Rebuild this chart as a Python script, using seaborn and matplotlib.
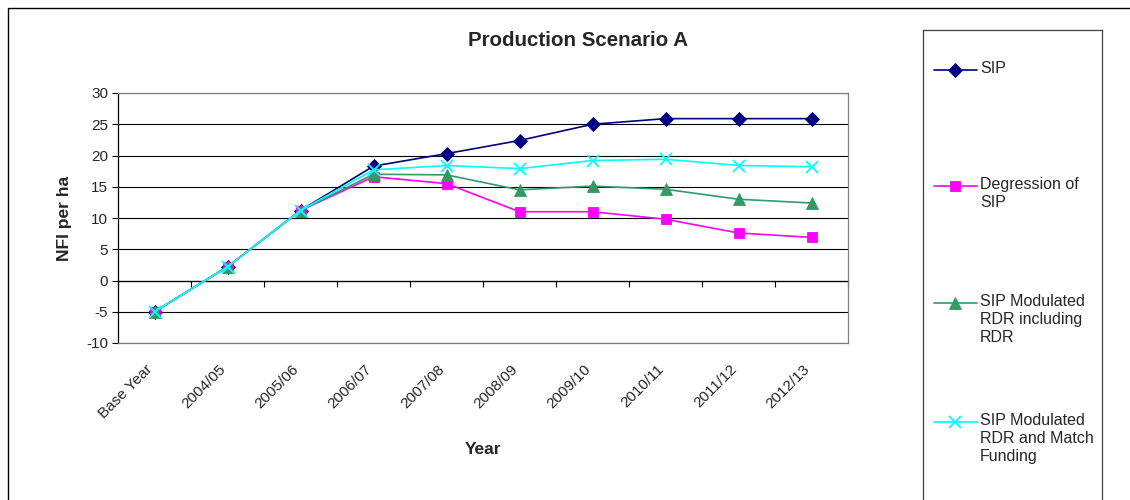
import numpy as np
import pandas as pd
import matplotlib
matplotlib.use("Agg")
import matplotlib.pyplot as plt
import matplotlib.transforms as mtransforms
from matplotlib.patches import Rectangle
from matplotlib.lines import Line2D
import seaborn as sns

# NFI per ha by year for each scenario
years = ["Base Year", "2004/05", "2005/06", "2006/07", "2007/08",
         "2008/09", "2009/10", "2010/11", "2011/12", "2012/13"]
sip = [-5.0, 2.2, 11.2, 18.3, 20.3, 22.4, 25.0, 25.9, 25.9, 25.9]
degression = [-5.0, 2.2, 11.2, 16.6, 15.5, 11.0, 11.0, 9.8, 7.6, 6.9]
modulated_rdr = [-5.0, 2.2, 11.2, 17.0, 16.9, 14.5, 15.1, 14.6, 13.0, 12.4]
match_funding = [-5.0, 2.2, 11.2, 17.7, 18.4, 17.9, 19.2, 19.4, 18.4, 18.2]

series_names = ["SIP", "Degression of SIP",
                "SIP Modulated RDR including RDR",
                "SIP Modulated RDR and Match Funding"]
legend_labels = ["SIP", "Degression of\nSIP",
                 "SIP Modulated\nRDR including\nRDR",
                 "SIP Modulated\nRDR and Match\nFunding"]
colors = ["#000080", "#FF00FF", "#339966", "#00FFFF"]
markers = ["D", "s", "^", "x"]
msizes = [7, 7.5, 8, 8]

sns.set_style("white")
plt.rcParams["font.family"] = ["Liberation Sans", "DejaVu Sans"]
plt.rcParams["axes.unicode_minus"] = False

df = pd.DataFrame({
    "pos": np.tile(np.arange(len(years)), 4),
    "value": sip + degression + modulated_rdr + match_funding,
    "series": np.repeat(series_names, len(years)),
})

fig = plt.figure(figsize=(11.3, 5.0), dpi=100)
ax = fig.add_axes([118 / 1130, 157 / 500, 730 / 1130, 250 / 500])

ymin, ymax = -10, 30
ax.set_ylim(ymin, ymax)
ax.set_xlim(-0.5, len(years) - 0.5)
ax.set_yticks(np.arange(ymin, ymax + 1, 5))
ax.yaxis.grid(True, color="black", lw=0.8)
ax.set_axisbelow(True)

for name, c, m, ms in zip(series_names, colors, markers, msizes):
    sub = df[df["series"] == name]
    sns.lineplot(data=sub, x="pos", y="value", ax=ax, color=c, lw=1.2,
                 marker=m, markersize=ms, markeredgecolor=c,
                 markeredgewidth=1.3 if m == "x" else 0.6, legend=False)

# Category labels along the bottom of the plot area
ax.set_xticks(np.arange(len(years)))
ax.set_xticklabels(years, rotation=45, ha="right", rotation_mode="anchor",
                   fontsize=11)
ax.tick_params(axis="x", length=0, pad=11)
shift = mtransforms.ScaledTranslation(-9 / 100, -4 / 100, fig.dpi_scale_trans)
for lbl in ax.get_xticklabels():
    lbl.set_transform(lbl.get_transform() + shift)
ax.tick_params(axis="y", direction="out", length=4, width=0.8, color="black",
               labelsize=11, pad=3, left=True)

for side in ["top", "right", "bottom"]:
    ax.spines[side].set_color("#808080")
    ax.spines[side].set_linewidth(0.9)
ax.spines["left"].set_color("black")
ax.spines["left"].set_linewidth(0.9)

# Category axis crossing at zero with ticks between categories
sec = ax.secondary_xaxis((0 - ymin) / (ymax - ymin))
sec.set_xticks(np.arange(-0.5, len(years), 1.0))
sec.set_xticklabels([])
sec.tick_params(axis="x", direction="out", length=4, width=0.8, color="black")
sec.spines["bottom"].set_color("black")
sec.spines["bottom"].set_linewidth(0.9)

ax.set_xlabel("Year", fontsize=12.5, fontweight="bold")
ax.xaxis.set_label_coords(0.5, -0.395)
ax.set_ylabel("NFI per ha", fontsize=12.5, fontweight="bold", labelpad=10)

fig.text(578 / 1130, 1 - 40 / 500, "Production Scenario A", fontsize=14.8,
         fontweight="bold", ha="center", va="center")

# Legend panel
lax = fig.add_axes([923 / 1130, 0, (1102 - 923) / 1130, 1 - 30 / 500])
lax.set_xlim(923, 1102)
lax.set_ylim(500, 30)
lax.set_xticks([])
lax.set_yticks([])
lax.set_facecolor("none")
for side in ["top", "left", "right"]:
    lax.spines[side].set_color("#404040")
    lax.spines[side].set_linewidth(0.9)
lax.spines["bottom"].set_visible(False)
entry_y = [70, 186, 303, 422]
for lbl, c, m, ms, yy in zip(legend_labels, colors, markers, msizes, entry_y):
    lax.add_line(Line2D([934, 977], [yy, yy], color=c, lw=1.2))
    lax.add_line(Line2D([955.5], [yy], color=c, marker=m, markersize=ms,
                        markeredgecolor=c,
                        markeredgewidth=1.3 if m == "x" else 0.6))
    lax.text(980, yy - 9, lbl, fontsize=11.5, ha="left", va="top",
             linespacing=1.25)

# Outer chart border
fig.add_artist(Rectangle((8 / 1130, -0.1), 1.0, 1 - 8 / 500 + 0.1,
                         transform=fig.transFigure, fill=False,
                         ec="black", lw=1.0))

fig.savefig("out.png", dpi=100)
